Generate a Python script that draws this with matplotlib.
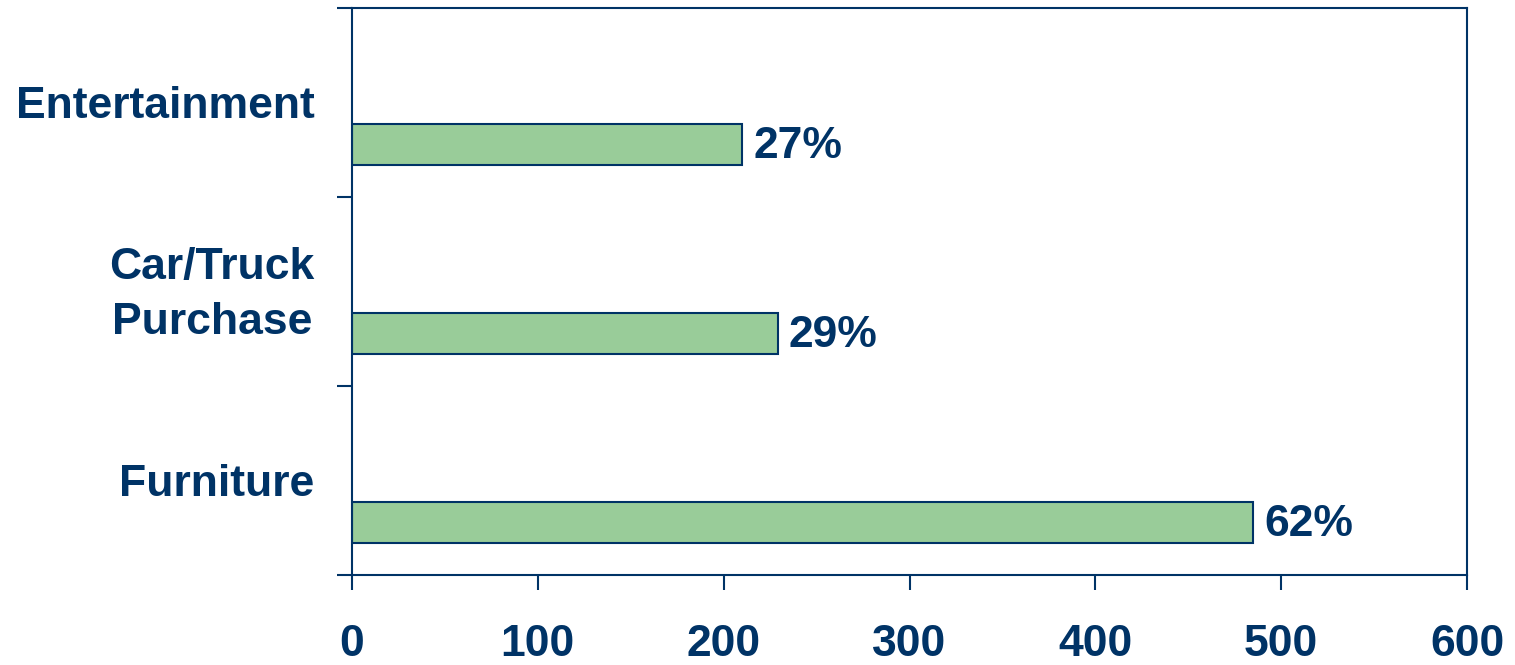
import matplotlib
matplotlib.use("Agg")
import matplotlib.pyplot as plt
from matplotlib.ticker import FixedLocator
from matplotlib.transforms import ScaledTranslation

# Purchase categories (bottom to top) with respondent counts and shares
categories = ["Furniture", "Car/Truck\nPurchase", "Entertainment"]
counts = [485, 229, 210]
share_labels = ["62%", "29%", "27%"]
x_ticks = [0, 100, 200, 300, 400, 500, 600]

navy = "#003366"
green = "#99CC99"

plt.rcParams["font.family"] = ["Liberation Sans", "DejaVu Sans"]
plt.rcParams["font.weight"] = "bold"

fig = plt.figure(figsize=(15.15, 6.65), dpi=100)
ax = fig.add_axes([352 / 1515, 1 - 575 / 665, (1467 - 352) / 1515, (575 - 8) / 665])

pos = list(range(len(categories)))
bar_offset = -0.222
bar_h = 0.217
bar_pos = [p + bar_offset for p in pos]
bars = ax.barh(bar_pos, counts, height=bar_h, color=green, edgecolor=navy, linewidth=1.5)

for rect, lab in zip(bars, share_labels):
    ax.text(rect.get_width() + 6, rect.get_y() + rect.get_height() / 2 - 0.012, lab,
            va="center", ha="left", fontsize=32, fontweight="bold", color=navy)

ax.set_xlim(0, 600)
ax.set_ylim(-0.5, len(categories) - 0.5)
ax.set_xticks(x_ticks)
ax.set_xticklabels([str(t) for t in x_ticks])
ax.set_yticks(pos)
ax.set_yticklabels(categories, multialignment="center", linespacing=1.45)
ax.yaxis.set_minor_locator(FixedLocator([p - 0.5 for p in pos] + [pos[-1] + 0.5]))

ax.tick_params(axis="x", which="major", direction="out", length=11, width=1.5,
               color=navy, labelcolor=navy, labelsize=32, pad=24)
ax.tick_params(axis="y", which="major", length=0, labelcolor=navy, labelsize=32, pad=27)
ax.tick_params(axis="y", which="minor", direction="out", length=11, width=1.5, color=navy)

for lbl in ax.get_xticklabels() + ax.get_yticklabels():
    lbl.set_fontweight("bold")

# nudge the two-line label up so its block sits centred on the band
for lbl in ax.get_yticklabels():
    if "\n" in lbl.get_text():
        lbl.set_transform(lbl.get_transform() + ScaledTranslation(0, 0.08, fig.dpi_scale_trans))

for sp in ax.spines.values():
    sp.set_color(navy)
    sp.set_linewidth(1.5)

fig.savefig("out.png", dpi=100, facecolor="white")
